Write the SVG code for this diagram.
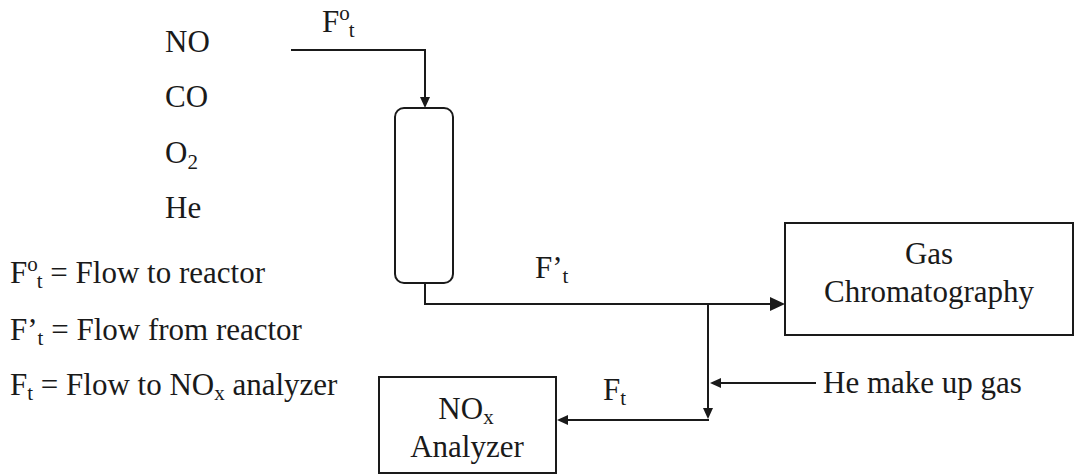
<svg xmlns="http://www.w3.org/2000/svg" width="1076" height="474" viewBox="0 0 1076 474">
<style>
text{font-family:'Liberation Serif','Times New Roman','DejaVu Serif',serif;font-size:31px;fill:#1a1a1a}
.s{font-size:21px}
.ln{fill:none;stroke:#1a1a1a;stroke-width:2}
.bx{fill:#fff;stroke:#1a1a1a;stroke-width:2}
.ah{fill:#1a1a1a}
</style>
<rect width="1076" height="474" fill="#fff"/>
<g id="feeds" font-family="Liberation Serif, serif">
<text x="165" y="52">NO</text>
<text x="165" y="107">CO</text>
<text x="165" y="163">O<tspan class="s" dy="6">2</tspan></text>
<text x="165" y="218">He</text>
</g>
<g id="legend" font-family="Liberation Serif, serif">
<text x="10" y="283">F<tspan class="s" dy="-12">o</tspan><tspan class="s" dx="-1" dy="17">t</tspan><tspan dy="-5"> = Flow to reactor</tspan></text>
<text x="10" y="340">F’<tspan class="s" dy="5">t</tspan><tspan dy="-5"> = Flow from reactor</tspan></text>
<text x="10" y="395">F<tspan class="s" dy="5">t</tspan><tspan dy="-5"> = Flow to NO</tspan><tspan class="s" dy="5">x</tspan><tspan dy="-5"> analyzer</tspan></text>
</g>
<g id="reactor">
<rect class="bx" x="395" y="108" width="58" height="175" rx="9"/>
</g>
<g id="gc" font-family="Liberation Serif, serif">
<rect class="bx" x="785" y="223" width="288" height="112"/>
<text x="929" y="264" text-anchor="middle">Gas</text>
<text x="929" y="302" text-anchor="middle">Chromatography</text>
</g>
<g id="nox" font-family="Liberation Serif, serif">
<rect class="bx" x="379" y="377" width="177" height="96"/>
<text x="466" y="419" text-anchor="middle">NO<tspan class="s" dy="5">x</tspan></text>
<text x="467" y="457" text-anchor="middle">Analyzer</text>
</g>
<g id="connectors" font-family="Liberation Serif, serif">
<polyline class="ln" points="291,50 425,50 425,98"/>
<polygon class="ah" points="420,97 430,97 425,108"/>
<polyline class="ln" points="425,283 425,304 772,304"/>
<polygon class="ah" points="770,297 770,311 785,304"/>
<polyline class="ln" points="708,304 708,409"/>
<polygon class="ah" points="703,408 713,408 708,419"/>
<polyline class="ln" points="709,420 567,420"/>
<polygon class="ah" points="568,415 568,425 557,420"/>
<polyline class="ln" points="816,383 720,383"/>
<polygon class="ah" points="721,378 721,388 710,383"/>
<text x="322" y="32">F<tspan class="s" dy="-12">o</tspan><tspan class="s" dx="-1" dy="17">t</tspan></text>
<text x="535" y="278">F’<tspan class="s" dy="5">t</tspan></text>
<text x="603" y="400">F<tspan class="s" dy="5">t</tspan></text>
<text x="823" y="393">He make up gas</text>
</g>
</svg>
